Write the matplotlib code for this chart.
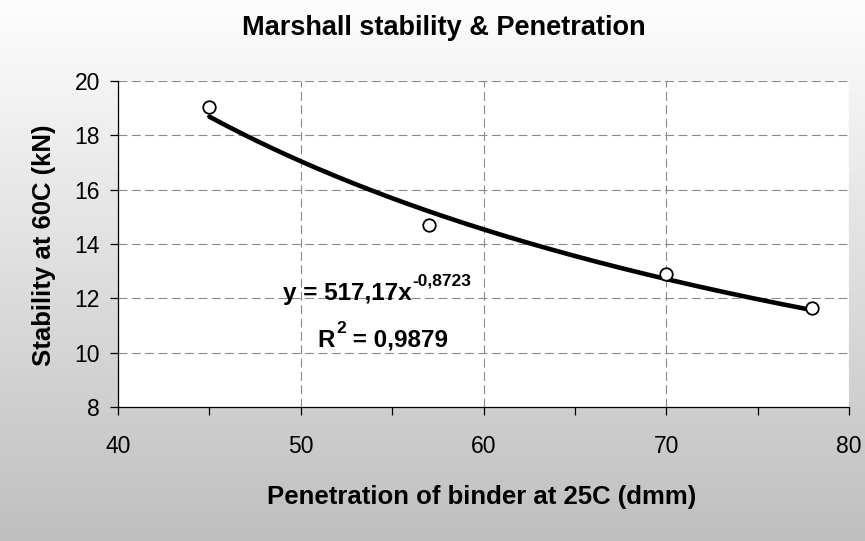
import numpy as np
import matplotlib
matplotlib.use("Agg")
import matplotlib.pyplot as plt
from matplotlib.ticker import MultipleLocator

plt.rcParams['font.family'] = ['Liberation Sans', 'DejaVu Sans']

# Data
penetration = [45, 57, 70, 78]
stability = [19.05, 14.7, 12.9, 11.65]
# Power trendline shown on chart: y = a * x^b
trend_a = 517.17
trend_b = -0.8723
eq_main = "y = 517,17x"
eq_exp = "-0,8723"
r2_value = "0,9879"

W, H = 865, 541
fig = plt.figure(figsize=(W / 100, H / 100), dpi=100)

def fx(px):
    return px / W

def fy(py):
    return 1 - py / H

# gradient background
bg = fig.add_axes([0, 0, 1, 1], zorder=-10)
grad = np.linspace(0, 1, 256).reshape(-1, 1)
top = np.array([0.995, 0.995, 0.995])
bot = np.array([0.75, 0.75, 0.75])
img = top[None, None, :] * (1 - grad[:, :, None]) + bot[None, None, :] * grad[:, :, None]
bg.imshow(img, aspect='auto', extent=[0, 1, 0, 1], origin='upper')
bg.set_axis_off()

ax = fig.add_axes([fx(118), fy(407), fx(849) - fx(118), fy(81) - fy(407)])
ax.set_facecolor('white')

xs = np.linspace(min(penetration), max(penetration), 200)
ax.plot(xs, trend_a * xs ** trend_b, color='black', lw=3.3, solid_capstyle='round', zorder=3)
ax.plot(penetration, stability, linestyle='none', marker='o', markersize=9,
        markerfacecolor='white', markeredgecolor='black', markeredgewidth=1.3, zorder=4,
        clip_on=False)

ax.set_xlim(40, 80)
ax.set_ylim(8, 20)
ax.xaxis.set_major_locator(MultipleLocator(10))
ax.xaxis.set_minor_locator(MultipleLocator(5))
ax.yaxis.set_major_locator(MultipleLocator(2))

ax.grid(True, which='major', color='#8a8a8a', linestyle=(0, (8, 4)), linewidth=0.8)
ax.set_axisbelow(True)
for s in ['top', 'right']:
    ax.spines[s].set_visible(False)
for s in ['left', 'bottom']:
    ax.spines[s].set_color('black')
    ax.spines[s].set_linewidth(0.9)

ax.tick_params(axis='both', which='major', direction='out', length=6, width=0.9,
               labelsize=16.5, colors='black')
ax.tick_params(axis='x', which='minor', direction='out', length=6, width=0.9)
ax.tick_params(axis='x', which='major', pad=14)
ax.tick_params(axis='y', which='major', pad=7)

fig.text(fx(482), fy(504), 'Penetration of binder at 25C (dmm)', ha='center', va='baseline',
         fontsize=18.5, fontweight='bold')
fig.text(fx(44), fy(245), 'Stability at 60C (kN)', ha='center', va='center', rotation=90,
         fontsize=18.5, fontweight='bold')
fig.text(fx(444), fy(35), 'Marshall stability & Penetration', ha='center', va='baseline',
         fontsize=19.5, fontweight='bold')

t1 = fig.text(fx(283), fy(300), eq_main, ha='left', va='baseline',
              fontsize=17.5, fontweight='bold', zorder=5)
fig.canvas.draw()
bb = t1.get_window_extent()
fig.text(bb.x1 / W + 0.001, fy(285), eq_exp, ha='left', va='baseline',
         fontsize=12.5, fontweight='bold', zorder=5)

t2 = fig.text(fx(317), fy(347), 'R', ha='left', va='baseline',
              fontsize=17.5, fontweight='bold', zorder=5)
fig.canvas.draw()
bb2 = t2.get_window_extent()
t3 = fig.text(bb2.x1 / W + 0.002, fy(333), '2', ha='left', va='baseline',
              fontsize=12.5, fontweight='bold', zorder=5)
fig.canvas.draw()
bb3 = t3.get_window_extent()
fig.text(bb3.x1 / W, fy(347), ' = ' + r2_value, ha='left', va='baseline',
         fontsize=17.5, fontweight='bold', zorder=5)

fig.savefig('out.png', dpi=100)
